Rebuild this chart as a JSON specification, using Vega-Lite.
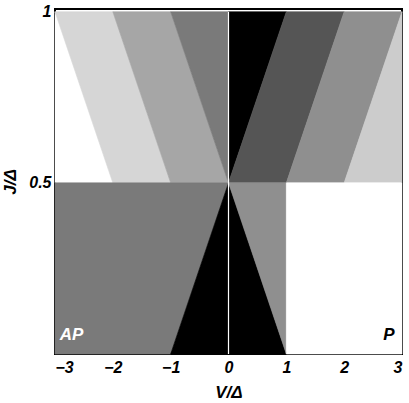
{
  "$schema": "https://vega.github.io/schema/vega-lite/v6.json",
  "width": 347,
  "height": 345,
  "autosize": {"type": "none"},
  "padding": {"left": 55, "top": 9, "right": 7, "bottom": 49},
  "background": "white",
  "config": {
    "view": {"stroke": "black", "strokeWidth": 2},
    "axis": {
      "grid": false,
      "domain": false,
      "tickColor": "black",
      "tickSize": -3,
      "tickWidth": 1,
      "labelFont": "Liberation Sans",
      "labelFontStyle": "italic",
      "labelFontWeight": "bold",
      "labelFontSize": 16,
      "labelColor": "black",
      "titleFont": "Liberation Sans",
      "titleFontStyle": "italic",
      "titleFontWeight": "bold",
      "titleFontSize": 17,
      "titleColor": "black"
    }
  },
  "datasets": {
    "regions": [
      {"r": "Uw", "J": 0.5, "x0": -3, "x1": -2, "c": "#ffffff"},
      {"r": "Uw", "J": 1, "x0": -3, "x1": -3, "c": "#ffffff"},
      {"r": "Ul1", "J": 0.5, "x0": -2, "x1": -1, "c": "#d6d6d6"},
      {"r": "Ul1", "J": 1, "x0": -3, "x1": -2, "c": "#d6d6d6"},
      {"r": "Ul2", "J": 0.5, "x0": -1, "x1": 0, "c": "#a6a6a6"},
      {"r": "Ul2", "J": 1, "x0": -2, "x1": -1, "c": "#a6a6a6"},
      {"r": "Ul3", "J": 0.5, "x0": 0, "x1": 0, "c": "#7a7a7a"},
      {"r": "Ul3", "J": 1, "x0": -1, "x1": 0, "c": "#7a7a7a"},
      {"r": "Ur0", "J": 0.5, "x0": 0, "x1": 0, "c": "#000000"},
      {"r": "Ur0", "J": 1, "x0": 0, "x1": 1, "c": "#000000"},
      {"r": "Ur1", "J": 0.5, "x0": 0, "x1": 1, "c": "#555555"},
      {"r": "Ur1", "J": 1, "x0": 1, "x1": 2, "c": "#555555"},
      {"r": "Ur2", "J": 0.5, "x0": 1, "x1": 2, "c": "#8f8f8f"},
      {"r": "Ur2", "J": 1, "x0": 2, "x1": 3, "c": "#8f8f8f"},
      {"r": "Ur3", "J": 0.5, "x0": 2, "x1": 3, "c": "#cccccc"},
      {"r": "Ur3", "J": 1, "x0": 3, "x1": 3, "c": "#cccccc"},
      {"r": "Ll", "J": 0, "x0": -3, "x1": -1, "c": "#7a7a7a"},
      {"r": "Ll", "J": 0.5, "x0": -3, "x1": 0, "c": "#7a7a7a"},
      {"r": "Lb", "J": 0, "x0": -1, "x1": 1, "c": "#000000"},
      {"r": "Lb", "J": 0.5, "x0": 0, "x1": 0, "c": "#000000"},
      {"r": "Lm", "J": 0, "x0": 1, "x1": 1, "c": "#8f8f8f"},
      {"r": "Lm", "J": 0.5, "x0": 0, "x1": 1, "c": "#8f8f8f"},
      {"r": "Lw", "J": 0, "x0": 1, "x1": 3, "c": "#ffffff"},
      {"r": "Lw", "J": 0.5, "x0": 1, "x1": 3, "c": "#ffffff"}
    ],
    "zero": [{"v": 0, "j0": 0, "j1": 1}],
    "ap": [{"t": "AP", "v": -2.92, "j": 0.055}],
    "p": [{"t": "P", "v": 2.87, "j": 0.055}]
  },
  "layer": [
    {
      "data": {"name": "regions"},
      "mark": {"type": "area", "orient": "horizontal", "interpolate": "linear", "strokeWidth": 0.6},
      "encoding": {
        "y": {
          "field": "J", "type": "quantitative",
          "scale": {"domain": [0, 1.008], "nice": false, "zero": false},
          "axis": {"values": [0.5, 1], "format": "~g", "title": "J/Δ", "labelPadding": 7, "titlePadding": 9}
        },
        "x": {
          "field": "x0", "type": "quantitative",
          "scale": {"domain": [-3, 3], "nice": false},
          "axis": {"values": [-3, -2, -1, 0, 1, 2, 3], "format": "d", "title": "V/Δ", "labelPadding": 8, "titlePadding": 9}
        },
        "x2": {"field": "x1"},
        "detail": {"field": "r"},
        "fill": {"field": "c", "type": "nominal", "scale": null, "legend": null},
        "stroke": {"field": "c", "type": "nominal", "scale": null, "legend": null}
      }
    },
    {
      "data": {"name": "zero"},
      "mark": {"type": "rule", "color": "white", "strokeWidth": 1.2},
      "encoding": {
        "x": {"field": "v", "type": "quantitative"},
        "y": {"field": "j0", "type": "quantitative"},
        "y2": {"field": "j1"}
      }
    },
    {
      "data": {"name": "ap"},
      "mark": {"type": "text", "align": "left", "baseline": "middle", "font": "Liberation Sans", "fontStyle": "italic", "fontWeight": "bold", "fontSize": 17, "color": "white"},
      "encoding": {
        "x": {"field": "v", "type": "quantitative"},
        "y": {"field": "j", "type": "quantitative"},
        "text": {"field": "t"}
      }
    },
    {
      "data": {"name": "p"},
      "mark": {"type": "text", "align": "right", "baseline": "middle", "font": "Liberation Sans", "fontStyle": "italic", "fontWeight": "bold", "fontSize": 17, "color": "black"},
      "encoding": {
        "x": {"field": "v", "type": "quantitative"},
        "y": {"field": "j", "type": "quantitative"},
        "text": {"field": "t"}
      }
    }
  ]
}
